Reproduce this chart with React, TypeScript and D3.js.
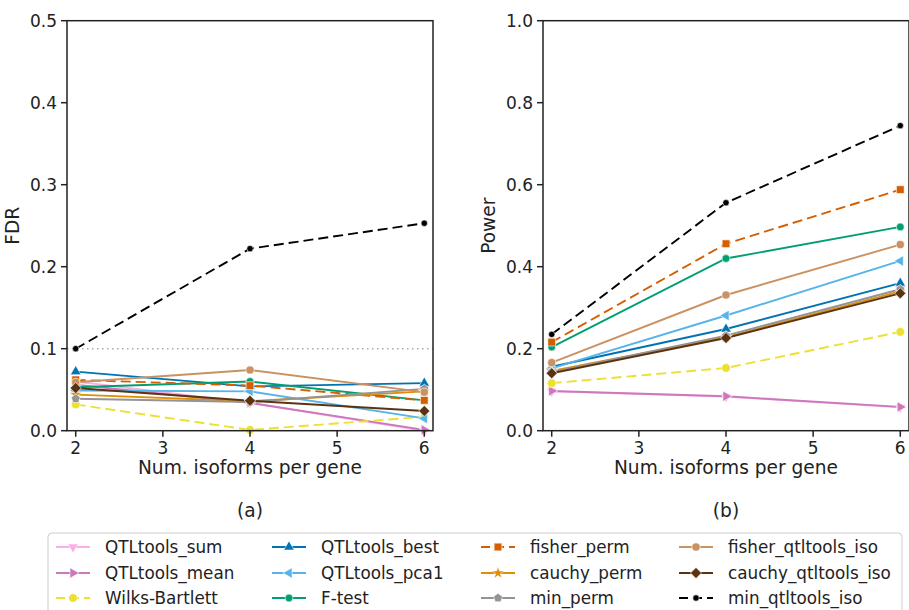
import React from "react";
import * as d3 from "d3";

const isoforms = [2, 4, 6];

const methods = [
  "QTLtools_sum", "QTLtools_mean", "Wilks-Bartlett",
  "QTLtools_best", "QTLtools_pca1", "F-test",
  "fisher_perm", "cauchy_perm", "min_perm",
  "fisher_qtltools_iso", "cauchy_qtltools_iso", "min_qtltools_iso",
];

const fdrValues: Record<string, number[]> = {
  QTLtools_sum: [0.06, 0.034, 0.0],
  QTLtools_mean: [0.056, 0.034, 0.001],
  "Wilks-Bartlett": [0.032, 0.001, 0.017],
  QTLtools_best: [0.072, 0.054, 0.058],
  QTLtools_pca1: [0.049, 0.048, 0.015],
  "F-test": [0.053, 0.06, 0.037],
  fisher_perm: [0.062, 0.055, 0.037],
  cauchy_perm: [0.044, 0.036, 0.048],
  min_perm: [0.039, 0.035, 0.051],
  fisher_qtltools_iso: [0.059, 0.074, 0.047],
  cauchy_qtltools_iso: [0.052, 0.0365, 0.024],
  min_qtltools_iso: [0.1, 0.222, 0.253],
};

const powerValues: Record<string, number[]> = {
  QTLtools_sum: [0.096, 0.083, 0.057],
  QTLtools_mean: [0.097, 0.084, 0.058],
  "Wilks-Bartlett": [0.116, 0.153, 0.241],
  QTLtools_best: [0.156, 0.248, 0.36],
  QTLtools_pca1: [0.152, 0.281, 0.414],
  "F-test": [0.204, 0.42, 0.497],
  fisher_perm: [0.216, 0.456, 0.588],
  cauchy_perm: [0.146, 0.228, 0.34],
  min_perm: [0.143, 0.232, 0.345],
  fisher_qtltools_iso: [0.166, 0.331, 0.454],
  cauchy_qtltools_iso: [0.14, 0.226, 0.335],
  min_qtltools_iso: [0.235, 0.556, 0.744],
};

const colors: Record<string, string> = {
  QTLtools_sum: "#fbafe4",
  QTLtools_mean: "#cc78bc",
  "Wilks-Bartlett": "#ece133",
  QTLtools_best: "#0173b2",
  QTLtools_pca1: "#56b4e9",
  "F-test": "#029e73",
  fisher_perm: "#d55e00",
  cauchy_perm: "#de8f05",
  min_perm: "#949494",
  fisher_qtltools_iso: "#ca9161",
  cauchy_qtltools_iso: "#5c3311",
  min_qtltools_iso: "#000000",
};

const dashed = ["Wilks-Bartlett", "fisher_perm", "min_qtltools_iso"];

const pentagon = {
  draw(ctx: any, size: number) {
    const r = Math.sqrt(size / 2.378);
    for (let i = 0; i < 5; i++) {
      const a = (i * 2 * Math.PI) / 5 - Math.PI / 2;
      const x = r * Math.cos(a), y = r * Math.sin(a);
      if (i === 0) ctx.moveTo(x, y); else ctx.lineTo(x, y);
    }
    ctx.closePath();
  },
};

// marker: [symbol, size, rotation]
const markers: Record<string, [any, number, number]> = {
  QTLtools_sum: [d3.symbolTriangle, 48, 180],
  QTLtools_mean: [d3.symbolTriangle, 48, 90],
  "Wilks-Bartlett": [d3.symbolCircle, 60, 0],
  QTLtools_best: [d3.symbolTriangle, 48, 0],
  QTLtools_pca1: [d3.symbolTriangle, 48, -90],
  "F-test": [d3.symbolCircle, 48, 0],
  fisher_perm: [d3.symbolSquare, 60, 0],
  cauchy_perm: [d3.symbolStar, 48, 0],
  min_perm: [pentagon, 52, 0],
  fisher_qtltools_iso: [d3.symbolCircle, 52, 0],
  cauchy_qtltools_iso: [d3.symbolSquare, 62, 45],
  min_qtltools_iso: [d3.symbolCircle, 32, 0],
};

const fdrTicks = [0, 0.1, 0.2, 0.3, 0.4, 0.5];
const powerTicks = [0, 0.2, 0.4, 0.6, 0.8, 1.0];
const xTicks = [2, 3, 4, 5, 6];

const FONT = "DejaVu Sans, sans-serif";

const Marker = ({ name, x, y }: { name: string; x: number; y: number }) => {
  const [sym, size, rot] = markers[name];
  const d = d3.symbol().type(sym).size(size)() as string;
  return (
    <path
      d={d}
      transform={`translate(${x},${y}) rotate(${rot})`}
      fill={colors[name]}
      stroke="#fff"
      strokeWidth={0.6}
    />
  );
};

const Panel = ({
  left, values, yMax, ticks, yLabel, caption, refLine,
}: {
  left: number; values: Record<string, number[]>; yMax: number; ticks: number[];
  yLabel: string; caption: string; refLine?: number;
}) => {
  const top = 20.7, bottom = 430.7, width = 366;
  const x = d3.scaleLinear().domain([1.9, 6.1]).range([left, left + width]);
  const y = d3.scaleLinear().domain([0, yMax]).range([bottom, top]);
  const line = d3.line<number>().x((_, i) => x(isoforms[i])).y((v) => y(v));
  return (
    <g fontFamily={FONT}>
      {refLine !== undefined && (
        <line x1={x(1.9)} x2={x(6.1)} y1={y(refLine)} y2={y(refLine)}
          stroke="#aaa" strokeWidth={1.5} strokeDasharray="1.5,3.5" />
      )}
      {methods.map((m) => (
        <path key={m} d={line(values[m]) as string} fill="none" stroke={colors[m]}
          strokeWidth={1.9} strokeDasharray={dashed.includes(m) ? "10,5" : undefined} />
      ))}
      {methods.map((m) => (
        <g key={m}>
          {values[m].map((v, i) => <Marker key={i} name={m} x={x(isoforms[i])} y={y(v)} />)}
        </g>
      ))}
      <rect x={left} y={top} width={width} height={bottom - top} fill="none" stroke="#222" strokeWidth={1.5} />
      {ticks.map((t) => (
        <g key={t}>
          <line x1={left - 6} x2={left} y1={y(t)} y2={y(t)} stroke="#222" strokeWidth={1.5} />
          <text x={left - 10} y={y(t)} dy="0.36em" textAnchor="end" fontSize={17} fill="#222">
            {t.toFixed(1)}
          </text>
        </g>
      ))}
      {xTicks.map((t) => (
        <g key={t}>
          <line x1={x(t)} x2={x(t)} y1={bottom} y2={bottom + 6} stroke="#222" strokeWidth={1.5} />
          <text x={x(t)} y={bottom + 23} textAnchor="middle" fontSize={17} fill="#222">{t}</text>
        </g>
      ))}
      <text x={left + width / 2} y={bottom + 43} textAnchor="middle" fontSize={18.6} fill="#222">
        Num. isoforms per gene
      </text>
      <text transform={`translate(${left - 48},${(top + bottom) / 2}) rotate(-90)`}
        textAnchor="middle" fontSize={18.6} fill="#222">{yLabel}</text>
      <text x={left + width / 2} y={517} textAnchor="middle" fontSize={18.6} fill="#222">{caption}</text>
    </g>
  );
};

const legendCols = [56, 272, 481, 679];
const legendRows = [547, 573, 598];

const Legend = () => (
  <g fontFamily={FONT}>
    <rect x={48} y={533} width={854} height={90} rx={4} fill="#fff" stroke="#ccc" strokeWidth={1} />
    {methods.map((m, i) => {
      const cx = legendCols[Math.floor(i / 3)];
      const cy = legendRows[i % 3];
      return (
        <g key={m}>
          <line x1={cx} x2={cx + 34} y1={cy} y2={cy} stroke={colors[m]} strokeWidth={1.9}
            strokeDasharray={dashed.includes(m) ? "9,5" : undefined} />
          <Marker name={m} x={cx + 17} y={cy} />
          <text x={cx + 49} y={cy} dy="0.36em" fontSize={16.8} fill="#222">{m}</text>
        </g>
      );
    })}
  </g>
);

export default function App() {
  return (
    <svg width={909} height={610} style={{ position: "absolute", left: 0, top: 0 }}>
      <rect width={909} height={610} fill="#fff" />
      <Panel left={67} values={fdrValues} yMax={0.5} ticks={fdrTicks} yLabel="FDR" caption="(a)" refLine={0.1} />
      <Panel left={543} values={powerValues} yMax={1.0} ticks={powerTicks} yLabel="Power" caption="(b)" />
      <Legend />
    </svg>
  );
}
